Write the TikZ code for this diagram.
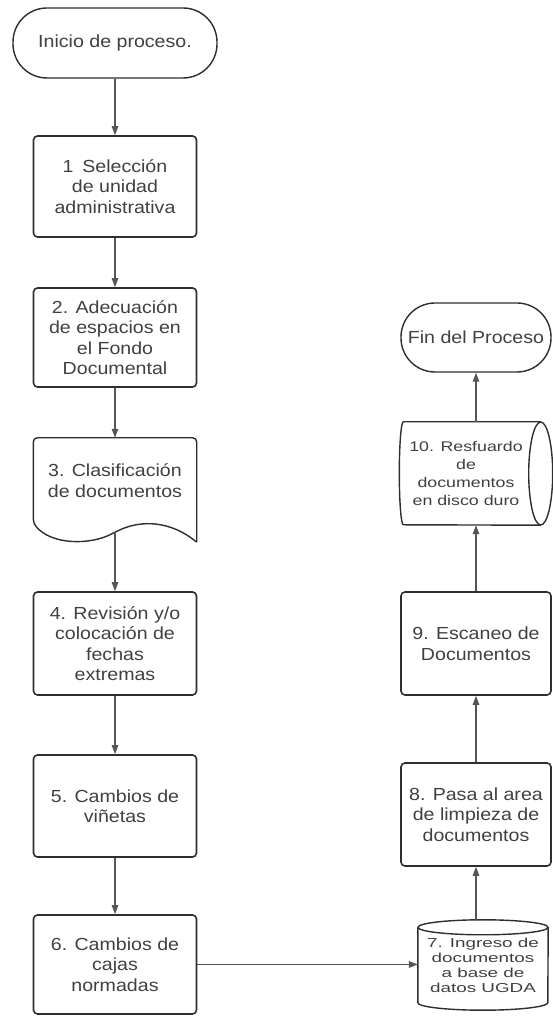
\documentclass[tikz,border=0pt]{standalone}
\usepackage{fontspec}
\setmainfont{Liberation Sans}[FakeStretch=1.12]
\newfontfamily\dbvfont{Liberation Sans}[FakeStretch=1.45]
\newfontfamily\dbhfont{Liberation Sans}[FakeStretch=1.27]
\usetikzlibrary{arrows.meta,calc}
\definecolor{Ink}{HTML}{404040}
\definecolor{Edge}{HTML}{2E2E2E}
\definecolor{Wire}{HTML}{555555}

\begin{document}
\begin{tikzpicture}[x=1pt,y=1pt,
  every node/.style={font=\fontsize{17.5}{20.5}\selectfont, text=Ink, align=center},
  terminal/.style={draw=Edge, line width=1.4pt, rounded corners=34pt, minimum height=70pt},
  procbox/.style={draw=Edge, line width=1.6pt, rounded corners=4pt, minimum width=163pt, minimum height=101pt, inner sep=2pt},
  flow/.style={draw=Wire, line width=1.2pt, -{Triangle[length=9pt,width=6.5pt]}},
  dbline/.style={draw=Edge, line width=1.4pt},
  dbvtext/.style={font=\dbvfont\fontsize{13}{15}\selectfont, inner sep=0pt},
  dbhtext/.style={font=\dbhfont\fontsize{14}{18}\selectfont, inner sep=0pt}]
  \useasboundingbox (0,0) rectangle (553,1017);

  % left column
  \node[terminal, minimum width=204pt] (ini) at (115,974) {Inicio de proceso.};
  \node[procbox] (p1) at (115,830.5) {1\enspace Selección\\de unidad\\administrativa};
  \node[procbox, minimum height=99pt] (p2) at (115,679.5) {2. Adecuación\\de espacios en\\el Fondo\\Documental};
  \node[minimum width=163pt, minimum height=85pt] (p3) at (115,536.5) {3. Clasificación\\de documentos};
  \coordinate (p3w) at ($(p3.south)+(0,-9)$);
  \draw[dbline, rounded corners=4pt] ($(p3.south east)+(0,-19)$) -- (p3.north east) -- (p3.north west) -- (p3.south west)
    .. controls +(18,-22) and +(-25,-13) .. (p3w)
    .. controls +(27,13) and +(-25,21) .. ($(p3.south east)+(0,-19)$);
  \node[procbox, minimum height=103pt] (p4) at (115,373.5) {4. Revisión y/o\\colocación de\\fechas\\extremas};
  \node[procbox, minimum height=102pt] (p5) at (115,211) {5. Cambios de\\viñetas};
  \node[procbox, minimum height=99pt] (p6) at (115,52.5) {6. Cambios de\\cajas\\normadas};

  % right column
  \node[dbvtext, minimum width=130pt, minimum height=90pt] (c7) at (483,52) {7. Ingreso de\\documentos\\a base de\\datos UGDA};
  \draw[dbline] ($(c7.north west)+(0,-7.5)$) -- ($(c7.south west)+(0,7.5)$)
    arc[start angle=180, end angle=360, x radius=65pt, y radius=7.5pt] -- ($(c7.north east)+(0,-7.5)$);
  \draw[dbline] ($(c7.north)+(0,-7.5)$) ellipse[x radius=65pt, y radius=7.5pt];
  \node[procbox, minimum width=150pt, minimum height=103pt] (p8) at (476,202.5) {8. Pasa al area\\de limpieza de\\documentos};
  \node[procbox, minimum width=150pt, minimum height=103pt] (p9) at (476,373.5) {9. Escaneo de\\Documentos};
  \node[dbhtext, minimum width=125pt, minimum height=103pt] (c10) at (466,543.5) {10. Resfuardo\\de\\documentos\\en disco duro};
  \draw[dbline] ($(c10.east)+(12,0)$) ellipse[x radius=12pt, y radius=51.5pt];
  \draw[dbline] ($(c10.north east)+(12,0)$) -- (c10.north west)
    arc[start angle=90, end angle=270, x radius=4pt, y radius=51.5pt] -- ($(c10.south east)+(12,0)$);
  \node[terminal, minimum width=150pt, minimum height=69pt] (fin) at (476,679.5) {Fin del Proceso};

  % connectors
  \draw[flow] (ini) -- (p1);
  \draw[flow] (p1) -- (p2);
  \draw[flow] (p2) -- (p3);
  \draw[flow] (p3w) -- (p4);
  \draw[flow] (p4) -- (p5);
  \draw[flow] (p5) -- (p6);
  \draw[flow] (p6.east) -- (p6.east -| c7.west);
  \draw[flow] (p8.south |- c7.north) -- (p8.south);
  \draw[flow] (p8) -- (p9);
  \draw[flow] (p9.north) -- (p9.north |- c10.south);
  \draw[flow] (fin.south |- c10.north) -- (fin.south);
\end{tikzpicture}
\end{document}
